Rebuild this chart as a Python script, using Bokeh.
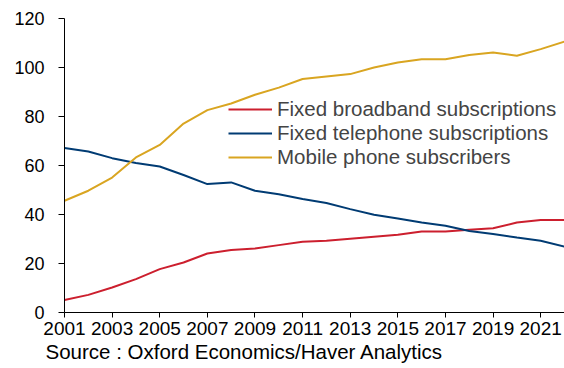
from bokeh.plotting import figure
from bokeh.models import Range1d, FixedTicker, Title, Legend, LegendItem
from bokeh.embed import file_html
from bokeh.resources import INLINE

years = list(range(2001, 2023))
broadband = [5.1, 7.2, 10.2, 13.6, 17.7, 20.4, 24.1, 25.5, 26.1, 27.5, 28.9,
             29.3, 30.1, 30.9, 31.7, 33.1, 33.1, 33.8, 34.4, 36.7, 37.8, 37.8]
telephone = [67.1, 65.7, 63.0, 61.0, 59.6, 56.1, 52.4, 53.1, 49.7, 48.3, 46.3,
             44.7, 42.2, 39.9, 38.4, 36.7, 35.4, 33.3, 32.0, 30.6, 29.3, 26.9]
mobile = [45.6, 49.7, 55.1, 63.3, 68.4, 77.1, 82.6, 85.3, 88.9, 91.8, 95.3,
          96.3, 97.3, 100.0, 102.0, 103.4, 103.4, 105.1, 106.1, 104.8, 107.5, 110.6]
series_names = ["Fixed broadband subscriptions", "Fixed telephone subscriptions",
                "Mobile phone subscribers"]
x_ticks = list(range(2001, 2022, 2))
y_ticks = [0, 20, 40, 60, 80, 100, 120]
source_text = "Source : Oxford Economics/Haver Analytics"

FONT = "Liberation Sans"

p = figure(width=564, height=368, output_backend="svg", toolbar_location=None,
           x_range=Range1d(2001, 2022), y_range=Range1d(0, 120),
           min_border_left=64, min_border_right=0, min_border_top=18,
           min_border_bottom=56)
p.outline_line_color = None
p.xgrid.visible = False
p.ygrid.visible = False
p.background_fill_color = "white"

colors = ["#CC1F2E", "#003B73", "#D9A521"]
renderers = []
for vals, c in zip([broadband, telephone, mobile], colors):
    r = p.line(years, vals, line_color=c, line_width=2)
    renderers.append(r)

p.xaxis.ticker = FixedTicker(ticks=x_ticks)
p.yaxis.ticker = FixedTicker(ticks=y_ticks)
for ax in (p.xaxis, p.yaxis):
    ax.axis_line_color = "black"
    ax.axis_line_width = 1
    ax.major_tick_line_color = "black"
    ax.major_tick_in = 0
    ax.minor_tick_line_color = None
    ax.major_label_text_font = FONT
    ax.major_label_text_color = "black"
p.yaxis.major_tick_out = 6
p.xaxis.major_tick_out = 5
p.yaxis.major_label_text_font_size = "18px"
p.xaxis.major_label_text_font_size = "19px"
p.yaxis.major_label_standoff = 14
p.xaxis.major_label_standoff = 4

legend = Legend(items=[LegendItem(label=n, renderers=[r]) for n, r in zip(series_names, renderers)],
                location=(164, 143), glyph_width=44, glyph_height=22, label_height=22,
                label_standoff=5, spacing=0, padding=0, margin=0,
                label_text_font=FONT, label_text_font_size="20.5px",
                border_line_color=None, background_fill_alpha=0)
p.add_layout(legend)

src = Title(text=source_text, align="left", offset=-19, standoff=0,
            text_font=FONT, text_font_size="20.5px", text_font_style="normal",
            text_color="black")
p.add_layout(src, "below")

open("out.html", "w").write(file_html(p, INLINE))
